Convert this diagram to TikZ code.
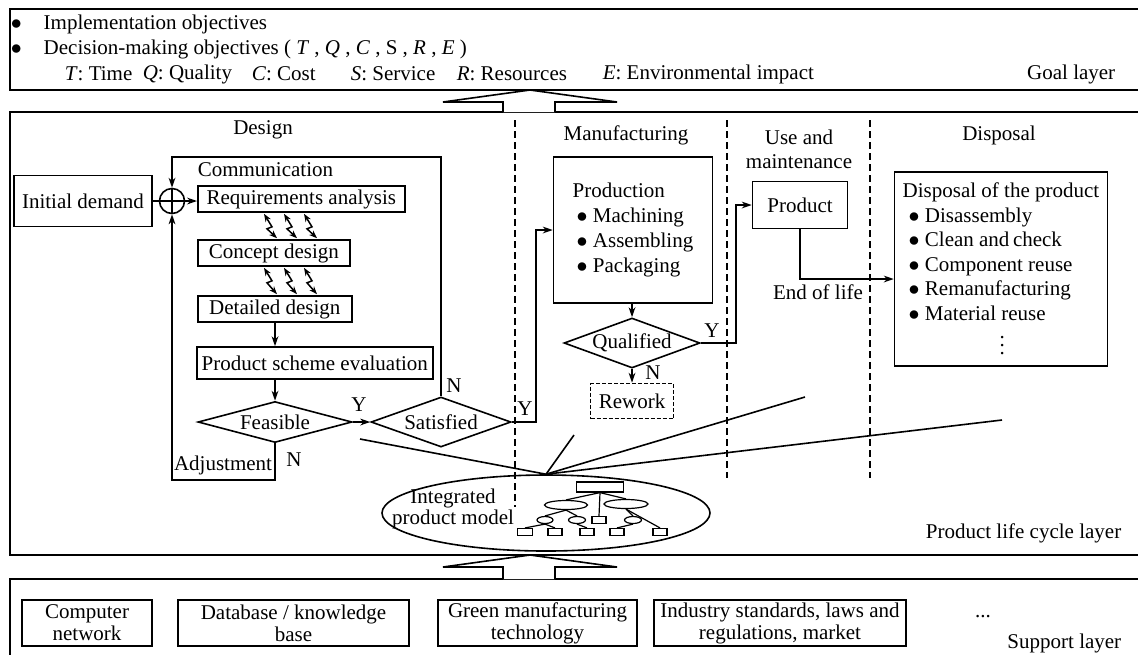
\documentclass[tikz,border=0pt]{standalone}
\usepackage{fontspec}
\setmainfont{Liberation Serif}
\usetikzlibrary{shapes.geometric,arrows.meta,calc}
\newcommand{\bul}{$\bullet$}
\begin{document}
\begin{tikzpicture}[x=0.5pt,y=-0.5pt,
  font=\fontsize{10.5}{12.5}\selectfont,
  line width=0.8pt,
  >={Stealth[length=5pt,width=3.4pt]},
  box/.style={draw,inner sep=0pt,minimum height=13pt},
  dia/.style={draw,diamond,inner sep=0pt},
  lbl/.style={inner sep=0pt},
  vdash/.style={dash pattern=on 3.5pt off 2pt},
  comm/.style={<->,>={Stealth[length=4pt,width=3pt]},line width=0.75pt},
  tr/.style={draw,line width=0.6pt,inner sep=0pt},
]
\useasboundingbox (0,0) rectangle (1138,655);
% ---------- layer frames
\draw (1138,9) -- (10,9) -- (10,90) -- (1138,90);
\draw (1138,112) -- (10,112) -- (10,555) -- (1138,555);
\draw (1138,579) -- (10,579) -- (10,655);
\draw[fill=white] (503,112) -- (503,102) -- (443,102) -- (530,90) -- (617,102) -- (555,102) -- (555,112);
\draw[fill=white] (503,579) -- (503,567) -- (443,567) -- (530,555) -- (617,567) -- (555,567) -- (555,579);
% ---------- goal layer
\node[lbl,anchor=west] (g1) at (10,24) {\bul\hspace{11pt}Implementation objectives};
\node[lbl,anchor=west] (g2) at (10,49) {\bul\hspace{11pt}Decision-making objectives ( \textit{T} , \textit{Q} , \textit{C} , S , \textit{R} , \textit{E} )};
\node[lbl,anchor=west] (g3) at (64,74) {\textit{T}: Time};
\node[lbl,anchor=west] (g4) at (142,74) {\textit{Q}: Quality};
\node[lbl,anchor=west] (g5) at (251,74) {\textit{C}: Cost};
\node[lbl,anchor=west] (g6) at (350,74) {\textit{S}: Service};
\node[lbl,anchor=west] (g7) at (456,74) {\textit{R}: Resources};
\node[lbl,anchor=west] (g8) at (602,74) {\textit{E}: Environmental impact};
\node[lbl,anchor=east] (goal) at (1116,74) {Goal layer};
% ---------- phase labels and separators
\node[lbl] (ldes) at (263,130) {Design};
\node[lbl] (lman) at (626,135) {Manufacturing};
\node[lbl,align=center,font=\fontsize{10.5}{12}\selectfont] (luse) at (799,149) {Use and\\maintenance};
\node[lbl] (ldis) at (999,135) {Disposal};
\draw[vdash] (515,120) -- (515,507);
\draw[vdash] (727,120) -- (727,478);
\draw[vdash] (870,120) -- (870,478);
% ---------- design
\node[box,minimum width=69pt,minimum height=25.5pt] (init) at (83,201) {Initial demand};
\node[circle,draw,minimum size=12.5pt,inner sep=0pt] (sum) at (172,201) {};
\draw (sum.north) -- (sum.south) (sum.west) -- (sum.east);
\node[lbl,anchor=west] (comm) at (197,170) {Communication};
\node[box,anchor=west,minimum width=103.5pt] (req) at (197,199) {Requirements analysis};
\node[box,anchor=west,minimum width=76pt] (con) at (197,253) {Concept design};
\node[box,anchor=west,minimum width=77pt] (det) at (197,309) {Detailed design};
\node[box,anchor=west,minimum width=118pt,minimum height=16pt] (pse) at (196,363) {Product scheme evaluation};
\node[dia,minimum width=77pt,minimum height=20.5pt,aspect=3.7] (fea) at (275,422) {Feasible};
\node[dia,minimum width=70pt,minimum height=25pt,aspect=2.8] (sat) at (441,422) {Satisfied};
\foreach \d in {0,20,40}{
  \draw[comm] ($(req.south west)+(67+\d,1)$) -- ++(8,13) -- ++(-5,2) -- ($(con.north west)+(80+\d,-1)$);
  \draw[comm] ($(con.south west)+(67+\d,1)$) -- ++(8,13) -- ++(-5,2) -- ($(det.north west)+(80+\d,-1)$);
}
\draw (init.east) -- (sum.west);
\draw[->] (sum.east) -- (sum.east -| req.west);
\draw[->] (det.south -| fea.north) -- (pse.north -| fea.north);
\draw[->] (pse.south -| fea.north) -- (fea.north);
\draw[->] (fea.east) -- (sat.west);
\draw[->] (sat.north) |- (sum.north |- 0,157) -- (sum.north);
\draw[->] (fea.south) |- (sum.south |- 0,480) -- (sum.south);
\node[lbl] (ladj) at (223,465) {Adjustment};
\node[lbl] (n1) at (294,460) {N};
\node[lbl] (y1) at (359,405) {Y};
\node[lbl] (n2) at (454,386) {N};
\node[lbl] (y2) at (525,409) {Y};
% ---------- manufacturing
\node[box,minimum width=79.5pt,minimum height=73pt,align=left,font=\fontsize{10.5}{12.5}\selectfont] (prod) at (633,230)
  {Production\\\hspace*{2pt}\bul\ Machining\\\hspace*{2pt}\bul\ Assembling\\\hspace*{2pt}\bul\ Packaging};
\node[dia,minimum width=68pt,minimum height=25pt,aspect=2.7] (qua) at (632,343) {Qualified};
\node[box,dash pattern=on 2pt off 1pt,minimum width=41.5pt,minimum height=17.5pt] (rew) at (632,401) {Rework};
\draw[->] (prod.south -| qua.north) -- (qua.north);
\draw[->] (qua.south) -- (rew.north);
\draw[->] (sat.east) -- ++(24,0) |- (prod.west);
\node[lbl] (y3) at (712,331) {Y};
\node[lbl] (n3) at (653,373) {N};
% ---------- use and disposal
\node[box,minimum width=47.5pt,minimum height=23.5pt] (pdt) at (800,205) {Product};
\draw[->] (qua.east) -- ++(35,0) |- (pdt.west);
\node[box,minimum width=106.5pt,minimum height=97pt,align=left,font=\fontsize{10.5}{12.3}\selectfont] (disp) at (1001,269)
  {Disposal of the product\\\hspace*{3pt}\bul\ Disassembly\\\hspace*{3pt}\bul\ Clean and\,check\\\hspace*{3pt}\bul\ Component reuse\\\hspace*{3pt}\bul\ Remanufacturing\\\hspace*{3pt}\bul\ Material reuse\\[1pt]\hspace*{48.5pt}$\vdots$};
\draw[->] (pdt.south) |- (disp.west |- 0,279);
\node[lbl] (eol) at (818,292) {End of life};
% ---------- integrated product model
\node[ellipse,draw,minimum width=164pt,minimum height=38pt,inner sep=0pt] (ipm) at (546,513) {};
\node[lbl,align=center,font=\fontsize{10.5}{9.5}\selectfont] (ipmt) at (453,509) {Integrated\\product model};
\coordinate (c1) at (360,439);
\coordinate (c2) at (574,435);
\coordinate (c3) at (805,397);
\coordinate (c4) at (1002,420);
\foreach \c in {c1,c2,c3,c4} \draw (\c) -- (ipm.north);
% tree
\node[tr,rectangle,minimum width=23.5pt,minimum height=5pt] (t0) at (600,487) {};
\node[tr,ellipse,minimum width=21.5pt,minimum height=4.5pt] (e1) at (566,505) {};
\node[tr,ellipse,minimum width=22pt,minimum height=4.5pt] (e2) at (626,504) {};
\node[tr,rectangle,minimum width=7pt,minimum height=3.5pt] (r0) at (599,520) {};
\node[tr,ellipse,minimum width=8pt,minimum height=3.5pt] (s1) at (545,520) {};
\node[tr,ellipse,minimum width=8.5pt,minimum height=3.5pt] (s2) at (577,520) {};
\node[tr,ellipse,minimum width=8.5pt,minimum height=3.5pt] (s3) at (633,520) {};
\node[tr,rectangle,minimum width=7.5pt,minimum height=3.5pt] (b1) at (525,532) {};
\node[tr,rectangle,minimum width=7pt,minimum height=3.5pt] (b2) at (555,532) {};
\node[tr,rectangle,minimum width=7pt,minimum height=3.5pt] (b3) at (587,532) {};
\node[tr,rectangle,minimum width=7pt,minimum height=3.5pt] (b4) at (617,532) {};
\node[tr,rectangle,minimum width=7pt,minimum height=3.5pt] (b5) at (660,532) {};
\begin{scope}[line width=0.6pt]
\draw (t0.south) -- (e1.north);
\draw (t0.south) -- (r0.north);
\draw (t0.south) -- (e2.north);
\draw (e1.south) -- (s1.north);
\draw (e1.south) -- (s2.north);
\draw (e2.south) -- (s3.north);
\draw (e2.south) -- (b5.north);
\draw (s1.south) -- (b1.north);
\draw (s1.south) -- (b2.north);
\draw (s2.south) -- (b3.north);
\draw (s3.south) -- (b4.north);
\end{scope}
\node[lbl,anchor=east] (plc) at (1122,533) {Product life cycle layer};
% ---------- support layer
\begin{scope}[every node/.append style={font=\fontsize{10.5}{11}\selectfont}]
\node[box,minimum width=65pt,minimum height=23pt,align=center] (s1b) at (87,623) {Computer\\network};
\node[box,minimum width=115.5pt,minimum height=23pt,align=center] (s2b) at (293.5,623) {Database / knowledge\\base};
\node[box,minimum width=99.5pt,minimum height=23pt,align=center] (s3b) at (537.5,623) {Green manufacturing\\technology};
\node[box,minimum width=126pt,minimum height=23pt,align=center] (s4b) at (780,623) {Industry standards, laws and\\regulations, market};
\end{scope}
\node[lbl] (dots) at (983,617) {...};
\node[lbl,anchor=east] (sup) at (1122,643) {Support layer};
\end{tikzpicture}
\end{document}
